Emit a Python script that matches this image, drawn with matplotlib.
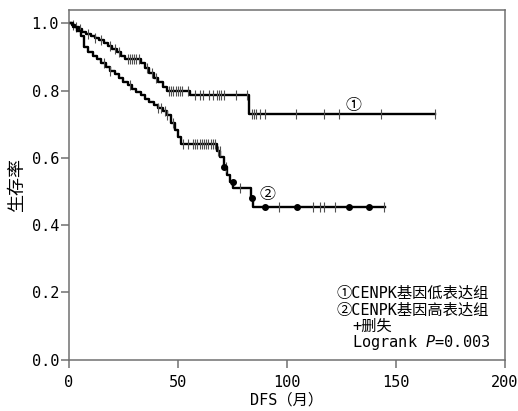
import matplotlib
matplotlib.use('Agg')
import matplotlib.pyplot as plt
import numpy as np

plt.rcParams['font.family'] = ['DejaVu Sans Mono', 'Noto Sans CJK SC']
plt.rcParams['mathtext.fontset'] = 'custom'
plt.rcParams['mathtext.it'] = 'DejaVu Sans Mono:italic'
plt.rcParams['mathtext.rm'] = 'DejaVu Sans Mono'

# curve 1: CENPK low expression group
low_times = [0, 1.5, 3, 4.5, 6, 8, 10, 12, 14, 16, 18, 20, 22, 24, 26,
             33, 35, 37, 39, 41, 43, 45, 55.5, 82.8]
low_surv = [1.0, 0.994, 0.988, 0.982, 0.976, 0.970, 0.964, 0.957, 0.950, 0.943,
            0.934, 0.924, 0.914, 0.904, 0.894, 0.882, 0.868, 0.853, 0.838, 0.825,
            0.812, 0.798, 0.786, 0.731]
low_end = 168
low_censor = [2, 3.5, 5, 9, 12, 15, 19, 21, 23, 27, 28, 29, 30, 31, 32, 36, 38, 40,
              46, 47, 48, 49, 50, 51, 52, 54.8, 58, 60, 61.7, 64.5, 66, 68, 69, 70,
              71, 76.7, 81.6, 84, 85, 86, 87.5, 90, 104, 117, 124, 143, 168]

# curve 2: CENPK high expression group
high_times = [0, 2, 4, 5.5, 7, 9, 11, 13, 15, 17, 19, 21, 23, 25, 27, 29, 31, 33,
              35, 37, 39, 41, 43, 45, 47, 48.5, 50, 51.5, 68, 69.5, 71, 72.5, 74,
              75.5, 83.5, 84.5]
high_surv = [1.0, 0.99, 0.978, 0.962, 0.93, 0.916, 0.903, 0.893, 0.882, 0.871,
             0.86, 0.849, 0.838, 0.827, 0.816, 0.806, 0.796, 0.786, 0.776, 0.766,
             0.757, 0.748, 0.739, 0.728, 0.705, 0.683, 0.662, 0.641, 0.622, 0.603,
             0.574, 0.55, 0.528, 0.51, 0.48, 0.455]
high_end = 145
high_censor = [16, 19, 28, 41, 42.5, 44, 45, 48, 52.6, 54.9, 57, 58, 59, 60, 61, 62,
               63, 64, 65, 66, 67, 68.5, 69.4, 72, 78.6, 96.2, 112.2, 115.3, 117,
               122.2, 144.3]
high_dots = [71.2, 75.2, 83.9, 90.2, 104.6, 128.7, 137.6]

x_ticks = [0, 50, 100, 150, 200]
y_ticks = [0.0, 0.2, 0.4, 0.6, 0.8, 1.0]

legend_lines = ['①CENPK基因低表达组', '②CENPK基因高表达组', '+删失',
                'Logrank $\\it{P}$=0.003']


def surv_at(times, surv, x):
    idx = np.searchsorted(times, x, side='right') - 1
    return np.asarray(surv)[idx]


fig = plt.figure(figsize=(5.18, 4.11), dpi=100)
ax = fig.add_axes([0.1326, 0.1248, 0.975 - 0.1326, 0.9757 - 0.1248])

for times, surv, end, cens in [(low_times, low_surv, low_end, low_censor),
                               (high_times, high_surv, high_end, high_censor)]:
    ax.step(times + [end], surv + [surv[-1]], where='post', color='black', lw=1.7)
    ax.plot(cens, surv_at(times, surv, cens), ls='none', marker='|',
            markersize=7, mew=0.8, color='#505050')

ax.plot(high_dots, surv_at(high_times, high_surv, high_dots), ls='none',
        marker='o', markersize=4, color='black')

ax.text(130.6, 0.757, '①', fontsize=11.5, ha='center', va='center',
        family=['Noto Sans CJK SC'])
ax.text(91.1, 0.49, '②', fontsize=11.5, ha='center', va='center',
        family=['Noto Sans CJK SC'])

# legend text block
ys = [293, 310, 326, 342]
xs = [336.7, 336.7, 352, 352]
for txt, px, py in zip(legend_lines, xs, ys):
    fig.text(px / 518, 1 - py / 411, txt, fontsize=11, ha='left', va='center')

ax.set_xlim(0, 200)
ax.set_ylim(0, 1.04)
ax.set_xticks(x_ticks)
ax.set_xticklabels([str(v) for v in x_ticks])
ax.set_yticks(y_ticks)
ax.set_yticklabels([f'{v:.1f}' for v in y_ticks])
ax.tick_params(axis='both', direction='out', length=6, width=1.1,
               color='#707070', labelsize=11)
ax.tick_params(axis='y', pad=1)
ax.tick_params(axis='x', pad=5)
for sp in ax.spines.values():
    sp.set_color('#707070')
    sp.set_linewidth(1.1)

ax.set_xlabel('DFS（月）', fontsize=11, labelpad=2)
ax.set_ylabel('生存率', fontsize=13, labelpad=4)

fig.savefig('out.png', dpi=100)
